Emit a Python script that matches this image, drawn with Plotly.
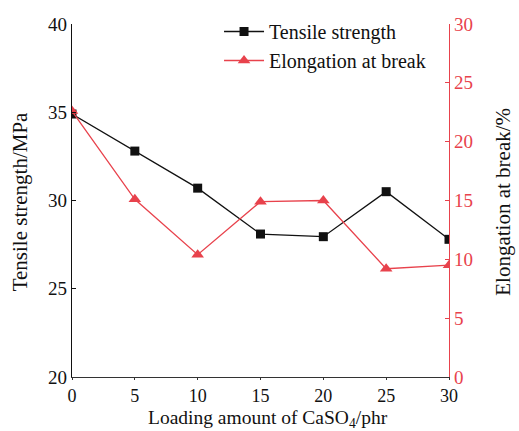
import plotly.graph_objects as go

loading = [0, 5, 10, 15, 20, 25, 30]
tensile = [34.9, 32.8, 30.7, 28.1, 27.95, 30.5, 27.8]
elongation = [22.6, 15.1, 10.4, 14.9, 15.0, 9.2, 9.5]

x_title = "Loading amount of CaSO<sub>4</sub>/phr"
y_title = "Tensile strength/MPa"
y2_title = "Elongation at break/%"

RED = "#e8424c"
FONT = "Liberation Serif"

L, R, T, B = 71.5, 70, 20.7, 54.3
W, H = 519, 431
PW, PH = W - L - R, H - T - B


def px(xp):
    return (xp - L) / PW


def py(yp):
    return (H - B - yp) / PH


fig = go.Figure()
fig.add_trace(go.Scatter(x=loading, y=tensile, mode="lines+markers", name="Tensile strength",
                         line=dict(color="#111111", width=1.3),
                         marker=dict(symbol="square", size=9, color="#111111")))
fig.add_trace(go.Scatter(x=loading, y=elongation, mode="lines+markers", name="Elongation at break",
                         yaxis="y2", line=dict(color=RED, width=1.3),
                         marker=dict(symbol="triangle-up", size=11, color=RED)))

fig.update_layout(
    width=W, height=H,
    margin=dict(l=L, r=R, t=T, b=B),
    plot_bgcolor="white", paper_bgcolor="white",
    font=dict(family=FONT, size=19, color="#111111"),
    showlegend=True,
    legend=dict(x=0.39, y=1.034, xanchor="left", yanchor="top", bgcolor="rgba(0,0,0,0)",
                font=dict(family=FONT, size=20), tracegroupgap=0, itemwidth=40),
    xaxis=dict(range=[0, 30], tickvals=loading, showline=True, linecolor="#333333", linewidth=1.2,
               ticks="outside", ticklen=2, tickcolor="#333333", showgrid=False, zeroline=False,
               tickfont=dict(size=18)),
    yaxis=dict(range=[20, 40], tickvals=[20, 25, 30, 35, 40], showline=True, linecolor="#111111", linewidth=1.2,
               ticks="inside", ticklen=4, tickcolor="#111111", showgrid=False, zeroline=False,
               tickfont=dict(size=19)),
    yaxis2=dict(range=[0, 30], tickvals=[0, 5, 10, 15, 20, 25, 30], overlaying="y", side="right",
                showline=True, linecolor=RED, linewidth=1.2, ticks="inside", ticklen=4, tickcolor=RED,
                showgrid=False, zeroline=False, tickfont=dict(size=19, color=RED)),
    annotations=[
        dict(text=x_title, xref="paper", yref="paper", x=px(268), y=py(432), showarrow=False,
             xanchor="center", yanchor="bottom", borderpad=0,
             font=dict(size=19.5, family=FONT, color="#111111")),
        dict(text=y_title, xref="paper", yref="paper", x=px(19), y=py(200), showarrow=False,
             textangle=-90, xanchor="center", yanchor="middle", font=dict(size=21, family=FONT, color="#111111")),
        dict(text=y2_title, xref="paper", yref="paper", x=px(503), y=py(200), showarrow=False,
             textangle=-90, xanchor="center", yanchor="middle", font=dict(size=21, family=FONT, color="#111111")),
    ],
)

fig.write_html("out.html")
